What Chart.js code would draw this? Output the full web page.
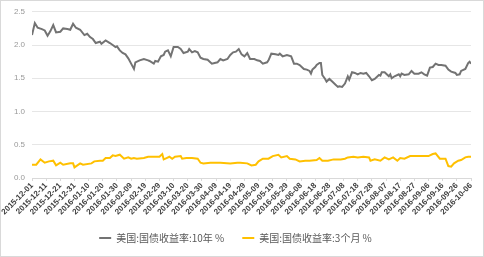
<!DOCTYPE html>
<html>
<head>
<meta charset="utf-8">
<script src="https://cdn.jsdelivr.net/npm/chart.js@4/dist/chart.umd.min.js"></script>
<style>
html,body{margin:0;padding:0;background:#fff;}
#wrap{width:484px;height:257px;position:relative;}
</style>
</head>
<body>
<div id="wrap"><canvas id="c" width="484" height="257"></canvas></div>
<script>
// Tick labels (every 10 calendar days from 2015-12-01)
const tickLabels = ["2015-12-01","2015-12-11","2015-12-21","2015-12-31","2016-01-10","2016-01-20","2016-01-30","2016-02-09","2016-02-19","2016-02-29","2016-03-10","2016-03-20","2016-03-30","2016-04-09","2016-04-19","2016-04-29","2016-05-09","2016-05-19","2016-05-29","2016-06-08","2016-06-18","2016-06-28","2016-07-08","2016-07-18","2016-07-28","2016-08-07","2016-08-17","2016-08-27","2016-09-06","2016-09-16","2016-09-26","2016-10-06"];

// 10-year yield: day offset from 2015-12-01 and value (%)
const days10y = [0,2,4,7,9,11,13,15,17,20,22,25,27,29,31,34,37,39,41,43,45,48,49,52,55,57,59,60,62,64,66,68,70,72,73,76,79,82,83,86,87,89,91,93,94,96,98,100,103,105,107,110,111,113,115,117,119,121,124,127,129,131,133,135,138,140,142,144,146,148,150,152,154,157,159,161,163,166,167,169,172,174,175,177,180,183,185,187,189,192,194,196,197,198,200,201,203,204,205,207,208,210,212,214,216,217,219,221,223,224,226,228,230,232,234,236,238,240,242,245,246,247,249,252,253,254,256,259,260,261,263,266,268,270,273,275,277,279,281,283,285,287,289,292,294,296,299,300,302,303,306,308,309,310];
const vals10y = [2.15,2.33,2.26,2.24,2.22,2.14,2.21,2.30,2.19,2.20,2.25,2.24,2.23,2.32,2.26,2.23,2.15,2.17,2.12,2.09,2.03,2.05,2.02,2.07,2.03,2.00,1.97,1.98,1.92,1.88,1.86,1.80,1.72,1.64,1.74,1.77,1.79,1.77,1.76,1.72,1.76,1.75,1.83,1.85,1.90,1.92,1.83,1.97,1.97,1.94,1.88,1.90,1.94,1.89,1.91,1.89,1.81,1.79,1.78,1.72,1.73,1.74,1.79,1.77,1.79,1.85,1.89,1.90,1.94,1.86,1.83,1.88,1.79,1.79,1.77,1.76,1.72,1.74,1.77,1.87,1.86,1.85,1.87,1.83,1.85,1.83,1.72,1.72,1.70,1.64,1.63,1.61,1.57,1.63,1.67,1.70,1.73,1.73,1.55,1.49,1.45,1.49,1.45,1.41,1.37,1.38,1.37,1.42,1.53,1.48,1.59,1.58,1.56,1.58,1.57,1.58,1.53,1.47,1.49,1.55,1.54,1.59,1.59,1.53,1.56,1.50,1.53,1.56,1.53,1.57,1.55,1.56,1.61,1.57,1.57,1.59,1.56,1.54,1.66,1.67,1.72,1.70,1.70,1.69,1.63,1.60,1.58,1.55,1.56,1.61,1.64,1.73,1.75,1.72];

// 3-month yield: day offset from 2015-12-01 and value (%)
const days3m = [0,3,6,9,12,15,17,20,22,27,29,30,34,36,42,44,48,50,52,55,57,59,62,63,65,68,70,72,74,79,82,86,90,92,93,95,97,99,101,105,106,109,113,117,119,121,126,133,140,145,147,152,155,158,160,163,167,170,174,176,180,182,186,189,193,196,201,203,205,209,213,218,221,223,227,230,234,238,239,242,246,249,252,255,258,260,263,267,272,276,280,283,285,288,292,294,296,298,301,303,306,308,310];
const vals3m = [0.20,0.20,0.28,0.23,0.25,0.26,0.19,0.23,0.20,0.22,0.22,0.16,0.22,0.20,0.22,0.25,0.26,0.26,0.30,0.30,0.34,0.33,0.35,0.33,0.29,0.31,0.29,0.30,0.29,0.30,0.32,0.32,0.32,0.36,0.28,0.30,0.32,0.29,0.32,0.33,0.29,0.30,0.30,0.29,0.23,0.22,0.23,0.23,0.22,0.23,0.23,0.22,0.19,0.20,0.25,0.29,0.29,0.33,0.35,0.31,0.33,0.29,0.28,0.25,0.26,0.26,0.27,0.30,0.26,0.26,0.28,0.28,0.29,0.31,0.32,0.31,0.32,0.31,0.26,0.28,0.26,0.31,0.28,0.31,0.26,0.30,0.29,0.33,0.33,0.33,0.33,0.36,0.37,0.29,0.29,0.18,0.17,0.22,0.26,0.27,0.31,0.32,0.32];

const series10yName = "美国:国债收益率:10年 %";
const series3mName = "美国:国债收益率:3个月 %";

const toPts = (d, v) => d.map((x, i) => ({x: x, y: v[i]}));

const borderPlugin = {
  id: 'outerBorder',
  afterDraw(chart) {
    const ctx = chart.ctx;
    ctx.save();
    ctx.strokeStyle = '#d9d9d9';
    ctx.lineWidth = 1;
    ctx.strokeRect(0.5, 0.5, chart.width - 1, chart.height - 1);
    ctx.restore();
  }
};

new Chart(document.getElementById('c'), {
  type: 'line',
  data: {
    datasets: [
      {label: series10yName, data: toPts(days10y, vals10y), borderColor: '#737373', backgroundColor: '#737373', borderWidth: 2, pointRadius: 0, tension: 0, fill: false},
      {label: series3mName, data: toPts(days3m, vals3m), borderColor: '#FFC000', backgroundColor: '#FFC000', borderWidth: 2, pointRadius: 0, tension: 0, fill: false}
    ]
  },
  options: {
    responsive: false,
    animation: false,
    layout: {padding: {left: 0, right: 13, top: 8, bottom: 4}},
    plugins: {
      legend: {
        position: 'bottom',
        labels: {
          usePointStyle: true,
          pointStyle: 'line',
          pointStyleWidth: 12,
          padding: 18,
          color: '#595959',
          font: {family: '"Noto Sans CJK SC", sans-serif', size: 10}
        }
      },
      tooltip: {enabled: false}
    },
    scales: {
      x: {
        type: 'linear',
        min: 0,
        max: 310,
        afterFit(scale) { scale.height = 37; },
        afterBuildTicks(scale) {
          scale.ticks = tickLabels.map((t, i) => ({value: i * 10}));
        },
        ticks: {
          autoSkip: false,
          minRotation: 45,
          maxRotation: 45,
          padding: 0,
          color: '#404040',
          font: {family: '"Liberation Sans", Arial, sans-serif', size: 8, weight: 'bold'},
          callback: (v) => tickLabels[Math.round(v / 10)]
        },
        grid: {display: true, drawOnChartArea: false, drawTicks: true, tickLength: 3, color: '#d9d9d9'},
        border: {display: true, color: '#d9d9d9'}
      },
      y: {
        min: 0,
        max: 2.5,
        afterFit(scale) { scale.width = 32; },
        ticks: {
          stepSize: 0.5,
          padding: 7,
          color: '#999999',
          font: {family: '"Liberation Sans", Arial, sans-serif', size: 8},
          callback: (v) => v.toFixed(1)
        },
        grid: {color: '#e6e6e6', drawTicks: false},
        border: {display: false}
      }
    }
  },
  plugins: [borderPlugin]
});
</script>
</body>
</html>
